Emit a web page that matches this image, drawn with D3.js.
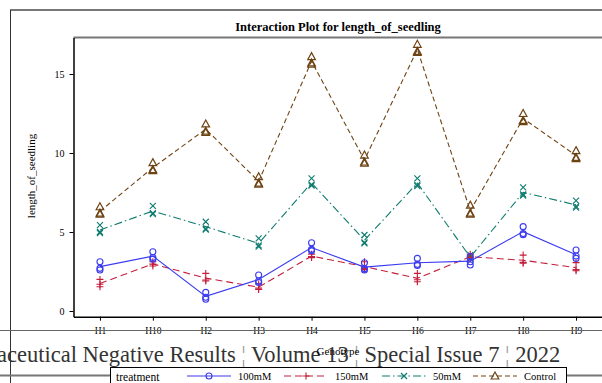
<!DOCTYPE html>
<html>
<head>
<meta charset="utf-8">
<script src="https://cdn.jsdelivr.net/npm/d3@7"></script>
<style>
  body { margin: 0; background: #fff; }
  svg { display: block; font-family: "Liberation Serif", "DejaVu Serif", serif; }
</style>
</head>
<body>
<div id="vis"></div>
<script>
// genotypes on the x axis
var genotypes = ["H1", "H10", "H2", "H3", "H4", "H5", "H6", "H7", "H8", "H9"];
var treatments = ["100mM", "150mM", "50mM", "Control"];
var yTicks = [0, 5, 10, 15];

// three replicate values per genotype
var rep100a = [3.12, 3.75, 1.18, 2.28, 4.32, 3.05, 3.33, 3.44, 5.34, 3.86];
var rep100b = [2.70, 3.38, 0.87, 1.90, 3.90, 2.68, 2.95, 3.12, 4.90, 3.48];
var rep100c = [2.60, 3.28, 0.74, 1.80, 3.82, 2.60, 2.88, 2.91, 4.83, 3.33];

var rep150a = [2.00, 3.12, 2.38, 1.71, 3.60, 3.12, 2.38, 3.60, 3.54, 3.06];
var rep150b = [1.69, 2.97, 1.96, 1.45, 3.44, 2.70, 1.98, 3.40, 3.08, 2.62];
var rep150c = [1.54, 2.85, 1.90, 1.36, 3.38, 2.62, 1.85, 3.30, 3.02, 2.55];

var rep50a = [5.44, 6.65, 5.65, 4.60, 8.40, 4.81, 8.40, 3.55, 7.83, 6.98];
var rep50b = [5.00, 6.20, 5.22, 4.15, 8.00, 4.35, 7.98, 3.38, 7.38, 6.62];
var rep50c = [4.93, 6.13, 5.15, 4.08, 7.93, 4.28, 7.91, 3.30, 7.31, 6.55];

var repCa = [6.60, 9.39, 11.84, 8.50, 16.10, 9.87, 16.88, 6.70, 12.50, 10.15];
var repCb = [6.20, 8.95, 11.38, 8.10, 15.70, 9.43, 16.43, 6.20, 12.06, 9.72];
var repCc = [6.13, 8.88, 11.30, 8.03, 15.63, 9.36, 16.36, 6.13, 11.99, 9.65];

var reps = {
  "100mM": [rep100a, rep100b, rep100c],
  "150mM": [rep150a, rep150b, rep150c],
  "50mM": [rep50a, rep50b, rep50c],
  "Control": [repCa, repCb, repCc]
};

var style = {
  "100mM":   {color: "#3b3bf0", dash: null,        sym: "circle"},
  "150mM":   {color: "#c41e3a", dash: "7,4",       sym: "plus"},
  "50mM":    {color: "#0d7a6e", dash: "8,3,1.5,3", sym: "x"},
  "Control": {color: "#6e4313", dash: "5,3",       sym: "tri"}
};

var width = 602, height = 383;
var plot = {left: 73.5, right: 602.5, top: 37.5, bottom: 316.7};

var svg = d3.select("#vis").append("svg")
  .attr("width", width)
  .attr("height", height);

var x = d3.scalePoint()
  .domain(genotypes)
  .range([plot.left, plot.right])
  .padding(0.5);

var y = d3.scaleLinear()
  .domain([-0.36, 17.31])
  .range([plot.bottom, plot.top]);

// outer frame
svg.append("line").attr("x1", 10).attr("x2", width).attr("y1", 10).attr("y2", 10)
  .attr("stroke", "#777").attr("stroke-width", 2);
svg.append("line").attr("x1", 10.5).attr("x2", 10.5).attr("y1", 10).attr("y2", height)
  .attr("stroke", "#333").attr("stroke-width", 1);

// title
svg.append("text")
  .attr("x", 338).attr("y", 31)
  .attr("text-anchor", "middle")
  .style("font-weight", "bold")
  .style("font-size", "12.5px")
  .text("Interaction Plot for length_of_seedling");

// plot frame top
svg.append("line").attr("x1", plot.left).attr("x2", width).attr("y1", plot.top).attr("y2", plot.top)
  .attr("stroke", "#777").attr("stroke-width", 2);

// y axis
var yAxis = svg.append("g")
  .attr("transform", "translate(" + plot.left + ",0)")
  .call(d3.axisLeft(y).tickValues(yTicks).tickSize(4).tickPadding(5).tickSizeOuter(0));
yAxis.select(".domain").attr("stroke", "#000").attr("stroke-width", 1.5);
yAxis.selectAll("text").style("font-size", "10px").style("font-family", "Liberation Serif");

// x axis
var xAxis = svg.append("g")
  .attr("transform", "translate(0," + plot.bottom + ")")
  .call(d3.axisBottom(x).tickSize(4).tickPadding(7).tickSizeOuter(0));
xAxis.select(".domain").attr("stroke", "#000").attr("stroke-width", 1.5);
xAxis.selectAll("text").style("font-size", "9.5px").style("font-family", "Liberation Serif");

// axis labels
svg.append("text")
  .attr("transform", "translate(35,176) rotate(-90)")
  .attr("text-anchor", "middle")
  .style("font-size", "11px")
  .text("length_of_seedling");

// page line under the tick labels
svg.append("line").attr("x1", 0).attr("x2", width).attr("y1", 330.5).attr("y2", 330.5)
  .attr("stroke", "#666").attr("stroke-width", 1.2);

// journal footer text over the chart
var foot = svg.append("text")
  .attr("x", -3).attr("y", 362)
  .style("font-size", "22.5px")
  .attr("fill", "#333");
var footParts = ["aceutical Negative Results ", "\u00A6", " Volume 13 ", "\u00A6", " Special Issue 7 ", "\u00A6", " 2022"];
footParts.forEach(function(s) {
  foot.append("tspan").attr("fill", s == "\u00A6" ? "#999" : "#333").text(s);
});

svg.append("text")
  .attr("x", 338).attr("y", 355)
  .attr("text-anchor", "middle")
  .style("font-size", "11px")
  .text("Genotype");

function symbol(g, sym, color, cx, cy) {
  if (sym == "circle") {
    g.append("circle").attr("cx", cx).attr("cy", cy).attr("r", 3)
      .attr("fill", "none").attr("stroke", color).attr("stroke-width", 1.1);
  } else if (sym == "plus") {
    g.append("path").attr("d", "M" + (cx - 3.5) + "," + cy + "h7M" + cx + "," + (cy - 3.5) + "v7")
      .attr("stroke", color).attr("stroke-width", 1.1).attr("fill", "none");
  } else if (sym == "x") {
    g.append("path").attr("d", "M" + (cx - 3) + "," + (cy - 3) + "l6,6M" + (cx - 3) + "," + (cy + 3) + "l6,-6")
      .attr("stroke", color).attr("stroke-width", 1.1).attr("fill", "none");
  } else {
    g.append("path").attr("d", "M" + cx + "," + (cy - 4) + "L" + (cx + 3.8) + "," + (cy + 3) + "L" + (cx - 3.8) + "," + (cy + 3) + "Z")
      .attr("stroke", color).attr("stroke-width", 1.2).attr("fill", "none");
  }
}

// series: markers for each replicate, line through the mean
var drawOrder = ["Control", "50mM", "150mM", "100mM"];
drawOrder.forEach(function(t) {
  var st = style[t];
  var r = reps[t];
  var means = genotypes.map(function(gname, i) { return d3.mean(r, function(a) { return a[i]; }); });

  var line = d3.line()
    .x(function(d, i) { return x(genotypes[i]); })
    .y(function(d) { return y(d); });

  var g = svg.append("g");
  g.append("path")
    .datum(means)
    .attr("d", line)
    .attr("fill", "none")
    .attr("stroke", st.color)
    .attr("stroke-width", 1.1)
    .attr("stroke-dasharray", st.dash);

  r.forEach(function(arr) {
    arr.forEach(function(v, i) {
      symbol(g, st.sym, st.color, x(genotypes[i]), y(v));
    });
  });
});

// page line behind the legend
svg.append("line").attr("x1", 0).attr("x2", width).attr("y1", 375.5).attr("y2", 375.5)
  .attr("stroke", "#777").attr("stroke-width", 2);

// legend
var lg = svg.append("g");
lg.append("rect").attr("x", 110.5).attr("y", 367.5).attr("width", 456).attr("height", 30)
  .attr("fill", "#fff").attr("stroke", "#000").attr("stroke-width", 1);
lg.append("text").attr("x", 116).attr("y", 381).style("font-size", "11.5px").text("treatment");

var legX = [187, 284, 382, 473];
treatments.forEach(function(t, i) {
  var st = style[t];
  var x0 = legX[i];
  lg.append("line").attr("x1", x0).attr("x2", x0 + 44).attr("y1", 376).attr("y2", 376)
    .attr("stroke", st.color).attr("stroke-width", 1.1).attr("stroke-dasharray", st.dash);
  symbol(lg, st.sym, st.color, x0 + 22, 376);
  lg.append("text").attr("x", x0 + 51).attr("y", 380).style("font-size", "10.5px").text(t);
});
</script>
</body>
</html>
